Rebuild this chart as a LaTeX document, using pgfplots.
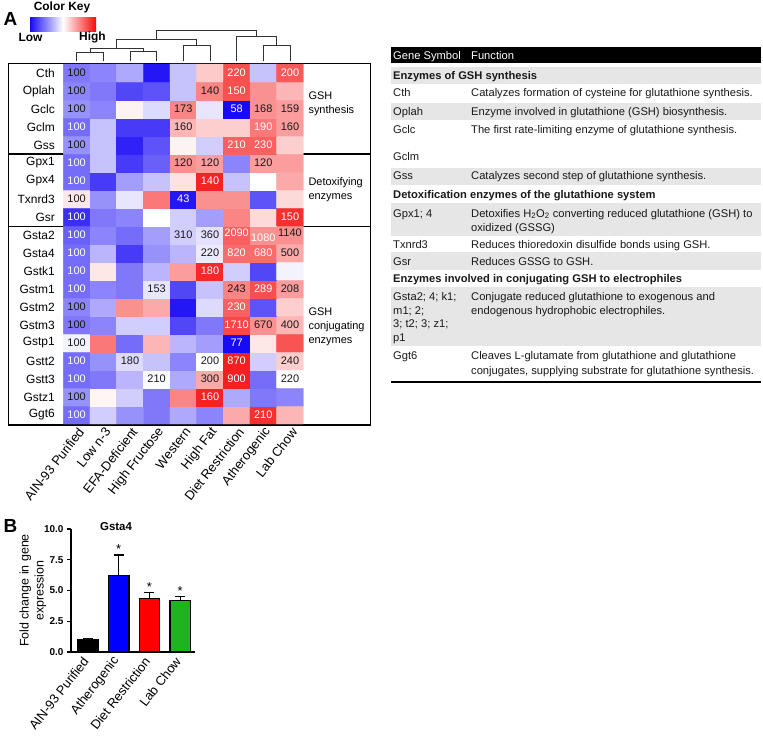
\documentclass[border=0pt]{standalone}
\usepackage{fontspec}
\setmainfont{Liberation Sans}
\usepackage{pgfplots}
\pgfplotsset{compat=1.18}

\definecolor{hmblue}{RGB}{25,10,245}
\definecolor{hmred}{RGB}{245,10,10}
\definecolor{rowgray}{RGB}{230,230,230}
\definecolor{bargreen}{RGB}{30,180,30}
\definecolor{txt}{RGB}{25,25,25}

\newcommand{\tcell}[3]{\node[anchor=base west, inner sep=0pt, font=\fontsize{11.2}{13}\selectfont, text=txt] at (#1,#2) {#3};}

\begin{document}
\begin{tikzpicture}
\begin{scope}[x=1bp,y=-1bp]
\useasboundingbox (0,0) rectangle (763,730);
% panel letters and colour key
\node[font=\bfseries\fontsize{19}{21}\selectfont] at (10.5,18.5) {A};
\node[font=\bfseries\fontsize{19}{21}\selectfont] at (10.5,526) {B};
\node[font=\bfseries\fontsize{12}{14}\selectfont] at (62,7.5) {Color Key};
\shade[left color=hmblue, right color=hmred, middle color=white] (30,17) rectangle (96,31);
\node[font=\bfseries\fontsize{12}{14}\selectfont] at (30.5,37.5) {Low};
\node[font=\bfseries\fontsize{12}{14}\selectfont] at (92.5,37) {High};
% frame round the heatmap
\draw[line width=1.2bp] (8.3,63.3) rectangle (370.7,425);
\draw[line width=1.2bp] (8.3,154) -- (370.7,154);
\draw[line width=1.2bp] (8.3,226.5) -- (370.7,226.5);
\node[anchor=west, align=left, font=\fontsize{11}{14}\selectfont] at (305,104) {GSH\\synthesis};
\node[anchor=west, align=left, font=\fontsize{11}{14}\selectfont] at (305,189.5) {Detoxifying\\enzymes};
\node[anchor=west, align=left, font=\fontsize{11}{14}\selectfont] at (305,326.5) {GSH\\conjugating\\enzymes};
% table
\fill[black] (391,47) rectangle (761,63);
\fill[rowgray] (391,67) rectangle (761,84);
\fill[rowgray] (391,103) rectangle (761,120);
\fill[rowgray] (391,168) rectangle (761,185);
\fill[rowgray] (391,203) rectangle (761,236);
\fill[rowgray] (391,252) rectangle (761,270);
\fill[rowgray] (391,287) rectangle (761,346);
\draw[line width=2.5bp] (391,382) -- (761,382);
\node[anchor=base west, inner sep=0pt, font=\fontsize{11.2}{13}\selectfont, text=white] at (393,59) {Gene Symbol};
\node[anchor=base west, inner sep=0pt, font=\fontsize{11.2}{13}\selectfont, text=white] at (471,59) {Function};
\tcell{393}{79.7}{\bfseries Enzymes of GSH synthesis}
\tcell{393}{96.7}{Cth}\tcell{471}{96.7}{Catalyzes formation of cysteine for glutathione synthesis.}
\tcell{393}{115.7}{Oplah}\tcell{471}{115.7}{Enzyme involved in glutathione (GSH) biosynthesis.}
\tcell{393}{133}{Gclc}\tcell{471}{133}{The first rate-limiting enzyme of glutathione synthesis.}
\tcell{393}{160}{Gclm}
\tcell{393}{179}{Gss}\tcell{471}{179}{Catalyzes second step of glutathione synthesis.}
\tcell{393}{198}{\bfseries Detoxification enzymes of the glutathione system}
\tcell{393}{217}{Gpx1; 4}\tcell{471}{217}{Detoxifies H\textsubscript{2}O\textsubscript{2} converting reduced glutathione (GSH) to}
\tcell{471}{231}{oxidized (GSSG)}
\tcell{393}{248}{Txnrd3}\tcell{471}{248}{Reduces thioredoxin disulfide bonds using GSH.}
\tcell{393}{265}{Gsr}\tcell{471}{265}{Reduces GSSG to GSH.}
\tcell{393}{282}{\bfseries Enzymes involved in conjugating GSH to electrophiles}
\tcell{393}{300}{Gsta2; 4; k1;}\tcell{471}{300}{Conjugate reduced glutathione to exogenous and}
\tcell{393}{314}{m1; 2;}\tcell{471}{314}{endogenous hydrophobic electrophiles.}
\tcell{393}{327}{3; t2; 3; z1;}
\tcell{393}{341}{p1}
\tcell{393}{359}{Ggt6}\tcell{471}{359}{Cleaves L-glutamate from glutathione and glutathione}
\tcell{471}{374}{conjugates, supplying substrate for glutathione synthesis.}
\end{scope}

% heatmap
\begin{axis}[
  at={(63.3bp,-424bp)}, anchor=south west,
  scale only axis, width=240bp, height=360bp,
  xmin=-0.5, xmax=8.5, ymin=-0.5, ymax=19.5,
  axis line style={draw=none}, tick style={draw=none},
  xtick={0,...,8},
  xticklabels={AIN-93 Purified, Low n-3, EFA-Deficient, High Fructose, Western, High Fat, Diet Restriction, Atherogenic, Lab Chow},
  ytick={0,...,19},
  yticklabels={Ggt6, Gstz1, Gstt3, Gstt2, Gstp1, Gstm3, Gstm2, Gstm1, Gstk1, Gsta4, Gsta2, Gsr, Txnrd3, Gpx4, Gpx1, Gss, Gclm, Gclc, Oplah, Cth},
  xticklabel style={rotate=52, anchor=east, font=\fontsize{13}{15}\selectfont, xshift=2bp, yshift=-7bp},
  yticklabel style={font=\fontsize{12}{14}\selectfont, xshift=-5bp},
  colormap={bwr}{rgb255=(25,10,245) rgb255=(255,255,255) rgb255=(245,10,10)},
  point meta min=-1, point meta max=1,
  clip=false,
]
\addplot[matrix plot*, mesh/cols=9, point meta=explicit] coordinates {
(0,0)[-0.6] (1,0)[-0.2] (2,0)[-0.45] (3,0)[-0.55] (4,0)[-0.35] (5,0)[-0.5] (6,0)[0.35] (7,0)[0.85] (8,0)[0.3]
(0,1)[-0.45] (1,1)[0.04] (2,1)[-0.2] (3,1)[-0.55] (4,1)[0.5] (5,1)[0.9] (6,1)[-0.35] (7,1)[-0.55] (8,1)[-0.5]
(0,2)[-0.6] (1,2)[-0.55] (2,2)[-0.3] (3,2)[-0.02] (4,2)[-0.35] (5,2)[0.35] (6,2)[0.92] (7,2)[-0.6] (8,2)[0.0]
(0,3)[-0.6] (1,3)[-0.45] (2,3)[-0.15] (3,3)[-0.25] (4,3)[-0.5] (5,3)[0.0] (6,3)[0.92] (7,3)[-0.2] (8,3)[0.2]
(0,4)[-0.05] (1,4)[0.55] (2,4)[-0.6] (3,4)[0.3] (4,4)[-0.3] (5,4)[-0.4] (6,4)[-1] (7,4)[0.1] (8,4)[0.7]
(0,5)[-0.55] (1,5)[-0.5] (2,5)[-0.2] (3,5)[-0.2] (4,5)[-0.75] (5,5)[-0.55] (6,5)[0.75] (7,5)[0.45] (8,5)[0.3]
(0,6)[-0.5] (1,6)[-0.35] (2,6)[0.45] (3,6)[0.35] (4,6)[-0.95] (5,6)[-0.15] (6,6)[0.65] (7,6)[-0.7] (8,6)[0.2]
(0,7)[-0.6] (1,7)[-0.5] (2,7)[-0.55] (3,7)[-0.1] (4,7)[-0.75] (5,7)[-0.25] (6,7)[0.5] (7,7)[0.72] (8,7)[0.4]
(0,8)[-0.6] (1,8)[0.1] (2,8)[-0.55] (3,8)[-0.3] (4,8)[0.4] (5,8)[0.88] (6,8)[-0.2] (7,8)[-0.75] (8,8)[-0.05]
(0,9)[-0.6] (1,9)[-0.3] (2,9)[-0.8] (3,9)[-0.45] (4,9)[-0.3] (5,9)[-0.08] (6,9)[0.6] (7,9)[0.6] (8,9)[0.35]
(0,10)[-0.65] (1,10)[-0.5] (2,10)[-0.6] (3,10)[-0.4] (4,10)[-0.2] (5,10)[-0.12] (6,10)[0.65] (7,10)[0.45] (8,10)[0.45]
(0,11)[-0.85] (1,11)[-0.55] (2,11)[-0.5] (3,11)[0.0] (4,11)[-0.2] (5,11)[-0.4] (6,11)[0.5] (7,11)[0.15] (8,11)[0.85]
(0,12)[0.1] (1,12)[-0.45] (2,12)[-0.1] (3,12)[0.55] (4,12)[-0.95] (5,12)[0.45] (6,12)[0.45] (7,12)[-0.7] (8,12)[0.15]
(0,13)[-0.6] (1,13)[-0.8] (2,13)[-0.4] (3,13)[-0.25] (4,13)[0.12] (5,13)[0.9] (6,13)[-0.25] (7,13)[0.0] (8,13)[0.35]
(0,14)[-0.6] (1,14)[-0.25] (2,14)[-0.8] (3,14)[-0.65] (4,14)[0.45] (5,14)[0.4] (6,14)[-0.5] (7,14)[0.4] (8,14)[0.4]
(0,15)[-0.45] (1,15)[-0.25] (2,15)[-0.9] (3,15)[-0.7] (4,15)[0.05] (5,15)[-0.2] (6,15)[0.65] (7,15)[0.65] (8,15)[0.2]
(0,16)[-0.6] (1,16)[-0.25] (2,16)[-0.8] (3,16)[-0.8] (4,16)[0.3] (5,16)[0.2] (6,16)[0.2] (7,16)[0.55] (8,16)[0.4]
(0,17)[-0.45] (1,17)[-0.5] (2,17)[0.05] (3,17)[-0.15] (4,17)[0.5] (5,17)[-0.1] (6,17)[-1] (7,17)[0.45] (8,17)[0.4]
(0,18)[-0.5] (1,18)[-0.55] (2,18)[-0.75] (3,18)[-0.7] (4,18)[-0.25] (5,18)[0.5] (6,18)[0.72] (7,18)[0.45] (8,18)[0.3]
(0,19)[-0.55] (1,19)[-0.5] (2,19)[-0.35] (3,19)[-0.95] (4,19)[-0.25] (5,19)[0.22] (6,19)[0.72] (7,19)[-0.25] (8,19)[0.68]
};
% cell values, white text
\addplot[draw=none, nodes near coords, point meta=explicit symbolic, nodes near coords align=center,
  every node near coord/.style={font=\fontsize{11}{13}\selectfont, text=white, inner sep=0pt}] coordinates {
(0,16)[100] (6,19)[220] (8,19)[200] (6,18)[150] (6,17)[58] (7,16)[190] (6,15)[210] (7,15)[230]
(0,14)[100] (0,13)[100] (5,13)[140] (4,12)[43] (0,11)[100] (8,11)[150] (0,10)[100] (6,10.1)[2090]
(7,9.85)[1080] (0,9)[100] (6,9)[820] (7,9)[680] (0,8)[100] (5,8)[180] (0,7)[100] (7,7)[289]
(6,6)[230] (6,5)[1710] (6,4)[77] (0,3)[100] (6,3)[870] (0,2)[100] (6,2)[900] (5,1)[160] (0,0)[100] (7,0)[210]
};
% cell values, dark text
\addplot[draw=none, nodes near coords, point meta=explicit symbolic, nodes near coords align=center,
  every node near coord/.style={font=\fontsize{11}{13}\selectfont, text=txt, inner sep=0pt}] coordinates {
(0,19)[100] (0,18)[100] (5,18)[140] (0,17)[100] (4,17)[173] (7,17)[168] (8,17)[159] (4,16)[160]
(8,16)[160] (0,15)[100] (4,14)[120] (5,14)[120] (7,14)[120] (0,12)[100] (4,10)[310] (5,10)[360]
(8,10.1)[1140] (5,9)[220] (8,9)[500] (3,7)[153] (6,7)[243] (8,7)[208] (0,6)[100] (0,5)[100]
(7,5)[670] (8,5)[400] (0,4)[100] (2,3)[180] (5,3)[200] (8,3)[240] (3,2)[210] (5,2)[300] (8,2)[220] (0,1)[100]
};
% column dendrogram
\addplot[black!80, line width=0.9bp] coordinates {(0,19.667) (0,20.15) (1,20.15) (1,19.667)};
\addplot[black!80, line width=0.9bp] coordinates {(2,19.667) (2,20.183) (3,20.183) (3,19.667)};
\addplot[black!80, line width=0.9bp] coordinates {(0.5,20.15) (0.5,20.372) (2.5,20.372) (2.5,20.183)};
\addplot[black!80, line width=0.9bp] coordinates {(4,19.667) (4,20.556) (5,20.556) (5,19.667)};
\addplot[black!80, line width=0.9bp] coordinates {(1.5,20.372) (1.5,20.872) (4.5,20.872) (4.5,20.556)};
\addplot[black!80, line width=0.9bp] coordinates {(7,19.667) (7,20.556) (8,20.556) (8,19.667)};
\addplot[black!80, line width=0.9bp] coordinates {(6,19.667) (6,21.056) (7.5,21.056) (7.5,20.556)};
\addplot[black!80, line width=0.9bp] coordinates {(3,20.872) (3,21.389) (6.75,21.389) (6.75,21.056)};
\end{axis}

% bar chart
\begin{axis}[
  at={(71bp,-652bp)}, anchor=south west,
  scale only axis, width=124bp, height=123bp,
  xmin=-0.55, xmax=3.48, ymin=0, ymax=10,
  axis x line*=bottom, axis y line*=left,
  axis line style={line width=1.4bp},
  ytick={0,2.5,5,7.5,10},
  /pgf/number format/assume math mode=true,
  yticklabel style={font=\bfseries\fontsize{10}{12}\selectfont,
    /pgf/number format/fixed, /pgf/number format/fixed zerofill, /pgf/number format/precision=1},
  tick align=outside, major tick length=4bp,
  ytick style={line width=1.4bp, black},
  xtick style={draw=none},
  xtick={0,1,2,3},
  xticklabels={AIN-93 Purified, Atherogenic, Diet Restriction, Lab Chow},
  xticklabel style={rotate=52, anchor=east, font=\fontsize{13}{15}\selectfont},
  ylabel={Fold change in gene\\expression},
  ylabel style={align=center, font=\fontsize{12.5}{15}\selectfont, yshift=-9bp},
  title={Gsta4},
  title style={at={(axis description cs:0.363,1)}, anchor=center, yshift=-4bp, font=\bfseries\fontsize{11.5}{13}\selectfont},
  clip=false,
]
\addplot[ybar, bar width=20.5bp, bar shift=0pt, fill=black, draw=black, line width=1.4bp,
  error bars/.cd, y dir=plus, y explicit, error bar style={line width=1.4bp, black}, error mark options={rotate=90, mark size=5bp, line width=1.4bp, black}]
  coordinates {(0,1.0) +- (0,0.12)};
\addplot[ybar, bar width=20.5bp, bar shift=0pt, fill=blue, draw=black, line width=1.4bp,
  error bars/.cd, y dir=plus, y explicit, error bar style={line width=1.4bp, black}, error mark options={rotate=90, mark size=5bp, line width=1.4bp, black}]
  coordinates {(1,6.2) +- (0,1.7)};
\addplot[ybar, bar width=20.5bp, bar shift=0pt, fill=red, draw=black, line width=1.4bp,
  error bars/.cd, y dir=plus, y explicit, error bar style={line width=1.4bp, black}, error mark options={rotate=90, mark size=5bp, line width=1.4bp, black}]
  coordinates {(2,4.35) +- (0,0.47)};
\addplot[ybar, bar width=20.5bp, bar shift=0pt, fill=bargreen, draw=black, line width=1.4bp,
  error bars/.cd, y dir=plus, y explicit, error bar style={line width=1.4bp, black}, error mark options={rotate=90, mark size=5bp, line width=1.4bp, black}]
  coordinates {(3,4.2) +- (0,0.3)};
\addplot[draw=none, nodes near coords, point meta=explicit symbolic,
  every node near coord/.style={anchor=south, inner sep=1bp, font=\fontsize{13}{15}\selectfont}]
  coordinates {(1,7.9)[*] (2,4.82)[*] (3,4.5)[*]};
\end{axis}
\end{tikzpicture}
\end{document}
